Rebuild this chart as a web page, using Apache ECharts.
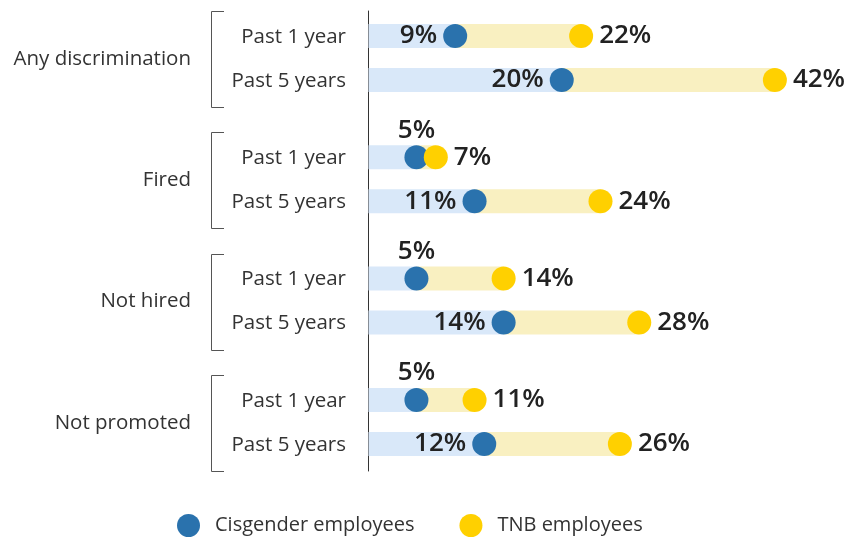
<!DOCTYPE html>
<html lang="en">
<head>
    <meta charset="UTF-8">
    <title>Discrimination: cisgender vs TNB employees</title>
    <script src="https://cdn.jsdelivr.net/npm/echarts@6/dist/echarts.min.js"></script>
    <style>
        html, body { margin: 0; padding: 0; background: #fff; }
        #main { width: 849px; height: 538px; }
    </style>
</head>
<body>
    <div id="main"></div>
    <script type="text/javascript">
        // data
        var groups = ['Any discrimination', 'Fired', 'Not hired', 'Not promoted'];
        var periods = ['Past 1 year', 'Past 5 years'];
        var cisgender = [9, 20, 5, 11, 5, 14, 5, 12];
        var tnb = [22, 42, 7, 24, 14, 28, 11, 26];
        var seriesNames = ['Cisgender employees', 'TNB employees'];

        // layout of the rows on the (hidden) vertical value axis
        var ROW_STEP = 44, GROUP_STEP = 121.3;
        function rowPos(i) {
            return Math.floor(i / 2) * GROUP_STEP + (i % 2) * ROW_STEP;
        }

        var FONT = "'Open Sans', 'Noto Sans', sans-serif";
        var BLUE = '#2a72ad', YELLOW = '#ffd000';

        var rows = [];
        for (var i = 0; i < cisgender.length; i++) {
            rows.push([i, cisgender[i], tnb[i], rowPos(i)]);
        }
        var blueDots = cisgender.map(function (v, i) {
            return {
                value: [v, rowPos(i)],
                // no room between axis and dot -> put label on top
                label: { position: v < 8 ? 'top' : 'left', distance: v < 8 ? 2 : 6 }
            };
        });
        var yellowDots = tnb.map(function (v, i) {
            return [v, rowPos(i)];
        });
        var groupRows = groups.map(function (g, k) { return [k, rowPos(2 * k), rowPos(2 * k + 1)]; });

        var myChart = echarts.init(document.getElementById('main'));
        var option = {
            animation: false,
            grid: { left: 368, right: 16, top: 11, bottom: 67 },
            xAxis: {
                type: 'value', min: 0, max: 48,
                show: false
            },
            yAxis: {
                type: 'value', inverse: true, min: -25, max: 435,
                axisLine: { show: true, lineStyle: { color: '#333', width: 1 } },
                axisTick: { show: false },
                axisLabel: { show: false },
                splitLine: { show: false }
            },
            legend: {
                data: [
                    { name: seriesNames[0], icon: 'circle' },
                    { name: seriesNames[1], icon: 'circle' }
                ],
                left: 172, top: 509,
                itemWidth: 23, itemHeight: 23, itemGap: 45,
                textStyle: { fontSize: 20, color: '#333', fontFamily: FONT, padding: [0, 0, 0, 10] }
            },
            series: [
                {
                    // background bars
                    type: 'custom',
                    data: rows,
                    silent: true,
                    renderItem: function (params, api) {
                        var y = api.value(3);
                        var p0 = api.coord([0, y]);
                        var p1 = api.coord([api.value(1), y]);
                        var p2 = api.coord([api.value(2), y]);
                        var h = 24;
                        return {
                            type: 'group',
                            children: [
                                { type: 'rect', shape: { x: p0[0] + 0.5, y: p0[1] - h / 2, width: p1[0] - p0[0], height: h }, style: { fill: '#d9e8f9' } },
                                { type: 'rect', shape: { x: p1[0], y: p0[1] - h / 2, width: p2[0] - p1[0], height: h }, style: { fill: '#f9f0c1' } }
                            ]
                        };
                    }
                },
                {
                    // row labels
                    type: 'custom',
                    data: rows,
                    silent: true,
                    renderItem: function (params, api) {
                        var p = api.coord([0, api.value(3)]);
                        return {
                            type: 'text',
                            style: {
                                text: periods[params.dataIndex % 2],
                                x: p[0] - 22, y: p[1] + 1,
                                align: 'right', verticalAlign: 'middle',
                                fill: '#333', fontSize: 20.5, fontFamily: FONT
                            }
                        };
                    }
                },
                {
                    // group labels and brackets
                    type: 'custom',
                    data: groupRows,
                    silent: true,
                    renderItem: function (params, api) {
                        var a = api.coord([0, api.value(1)]);
                        var b = api.coord([0, api.value(2)]);
                        var x = a[0];
                        var top = Math.round(a[1] - 25) + 0.5, bot = Math.round(b[1] + 27) + 0.5;
                        return {
                            type: 'group',
                            children: [
                                {
                                    type: 'polyline',
                                    shape: { points: [[x - 144, top], [x - 156.5, top], [x - 156.5, bot], [x - 144, bot]] },
                                    style: { stroke: '#555', lineWidth: 1, fill: null }
                                },
                                {
                                    type: 'text',
                                    style: {
                                        text: groups[params.dataIndex],
                                        x: x - 177, y: (a[1] + b[1]) / 2 + 1,
                                        align: 'right', verticalAlign: 'middle',
                                        fill: '#333', fontSize: 20.5, fontFamily: FONT
                                    }
                                }
                            ]
                        };
                    }
                },
                {
                    name: seriesNames[0],
                    type: 'scatter',
                    symbol: 'circle',
                    symbolSize: 24,
                    data: blueDots,
                    itemStyle: { color: BLUE, opacity: 1 },
                    label: {
                        show: true,
                        formatter: function (p) { return p.value[0] + '%'; },
                        color: '#222', fontSize: 26, fontWeight: 600, fontFamily: FONT
                    },
                    z: 3
                },
                {
                    name: seriesNames[1],
                    type: 'scatter',
                    symbol: 'circle',
                    symbolSize: 24,
                    data: yellowDots,
                    itemStyle: { color: YELLOW, opacity: 1 },
                    label: {
                        show: true, position: 'right', distance: 6,
                        formatter: function (p) { return p.value[0] + '%'; },
                        color: '#222', fontSize: 26, fontWeight: 600, fontFamily: FONT
                    },
                    z: 4
                }
            ]
        };
        myChart.setOption(option);
        window.addEventListener('resize', function () {
            myChart.resize();
        });
    </script>
</body>
</html>
